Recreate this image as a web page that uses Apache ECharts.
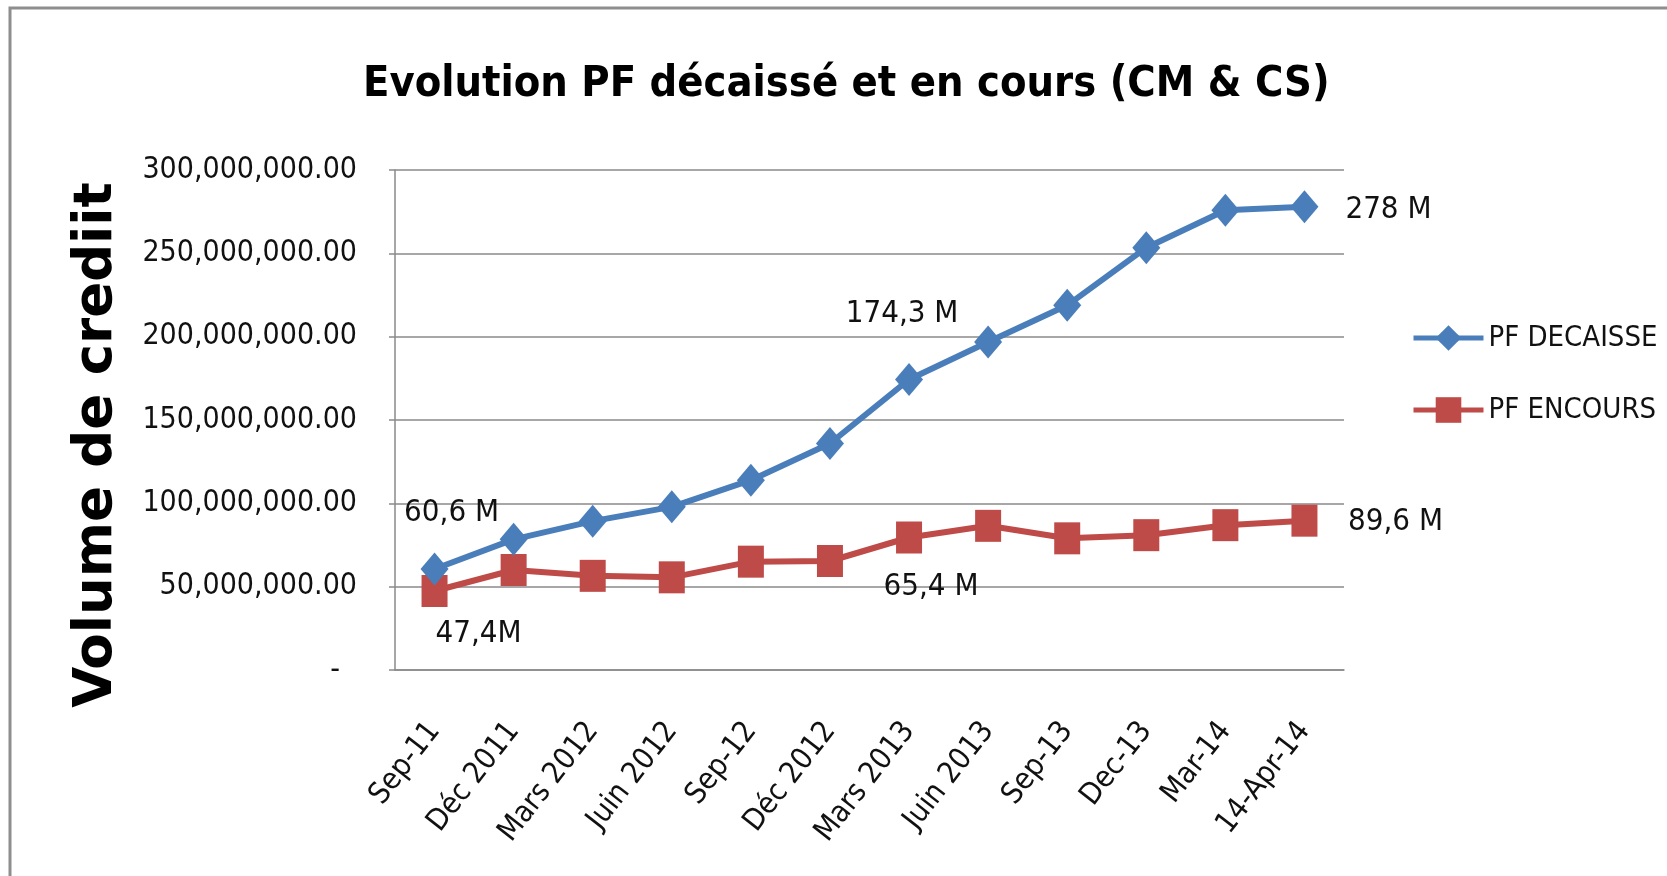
<!DOCTYPE html>
<html>
<head>
<meta charset="utf-8">
<script src="https://cdn.jsdelivr.net/npm/echarts@6/dist/echarts.min.js"></script>
<style>
html,body{margin:0;padding:0;background:#fff;}
#chart{width:1667px;height:876px;}
</style>
</head>
<body>
<div id="chart"></div>
<script>
const titleText = 'Evolution PF décaissé et en cours (CM & CS)';
const yAxisTitle = 'Volume de crediit';
const categories = ['Sep-11', 'Déc 2011', 'Mars 2012', 'Juin 2012', 'Sep-12', 'Déc 2012', 'Mars 2013', 'Juin 2013', 'Sep-13', 'Dec-13', 'Mar-14', '14-Apr-14'];
const seriesNames = ['PF DECAISSE', 'PF ENCOURS'];
const pfDecaisse = [60600000, 78400000, 89300000, 97900000, 113900000, 135900000, 174300000, 196800000, 218800000, 253400000, 275800000, 278000000];
const pfEncours = [47400000, 60000000, 56500000, 55600000, 65000000, 65400000, 79500000, 86500000, 79000000, 80900000, 86900000, 89600000];
const yTicks = [0, 50000000, 100000000, 150000000, 200000000, 250000000, 300000000];

// which points carry a value label (index into the series) and its unit suffix
const decaisseLabels = [{ i: 0, unit: ' M' }, { i: 6, unit: ' M' }, { i: 11, unit: ' M' }];
const encoursLabels = [{ i: 0, unit: 'M' }, { i: 5, unit: ' M' }, { i: 11, unit: ' M' }];

// label placement (layout only)
const labelOffsets = {
  0: { 0: [17, -56], 6: [-7, -66], 11: [84, 3] },
  1: { 0: [44, 43], 5: [101, 26], 11: [91, 1] }
};

const NARROW = "'Liberation Sans Narrow', 'Arial Narrow', 'DejaVu Sans Condensed', sans-serif";

function fmtMillions(v, unit) {
  const m = v / 1e6;
  const s = Number.isInteger(m) ? String(m) : m.toFixed(1).replace('.', ',');
  return s + unit;
}
function fmtAxis(v) {
  if (v === 0) return '{z|-}';
  const parts = Math.round(v).toString().replace(/\B(?=(\d{3})+(?!\d))/g, ',');
  return parts + '.00';
}
function buildData(values, specs, sIdx) {
  return values.map((v, i) => {
    const spec = specs.find(s => s.i === i);
    if (!spec) return v;
    return {
      value: v,
      label: {
        show: true,
        position: 'inside',
        offset: labelOffsets[sIdx][i],
        formatter: () => fmtMillions(v, spec.unit),
        color: '#111',
        fontSize: 31,
        fontFamily: NARROW,
        textBorderWidth: 0
      }
    };
  });
}

const chart = echarts.init(document.getElementById('chart'), null, { renderer: 'canvas' });
const option = {
  backgroundColor: '#fff',
  animation: false,
  title: {
    text: titleText,
    left: 358,
    top: 58,
    textStyle: { fontSize: 43, fontWeight: 'bold', color: '#000', fontFamily: NARROW }
  },
  graphic: [
    {
      type: 'rect',
      shape: { x: 10, y: 8, width: 1720, height: 920 },
      style: { fill: 'none', stroke: '#8e8e8e', lineWidth: 3 },
      silent: true
    },
    {
      type: 'text',
      x: 97,
      y: 445,
      rotation: Math.PI / 2,
      style: {
        text: yAxisTitle,
        fontSize: 53,
        fontWeight: 'bold',
        fontFamily: "'DejaVu Sans', sans-serif",
        fill: '#000',
        align: 'center',
        verticalAlign: 'middle'
      }
    }
  ],
  legend: {
    orient: 'vertical',
    left: 1406,
    top: 317,
    itemWidth: 70,
    itemHeight: 32,
    itemGap: 40,
    data: seriesNames,
    lineStyle: { width: 5 },
    textStyle: { fontSize: 29, fontFamily: NARROW, color: '#111', lineHeight: 32 }
  },
  grid: { left: 395, right: 323, top: 170, bottom: 206, containLabel: false },
  xAxis: {
    type: 'category',
    data: categories,
    boundaryGap: true,
    axisLine: { lineStyle: { color: '#8a8a8a', width: 1.5 } },
    axisTick: { show: false },
    axisLabel: {
      interval: 0,
      rotate: 52,
      margin: 56,
      fontSize: 30,
      fontFamily: NARROW,
      color: '#111'
    }
  },
  yAxis: {
    type: 'value',
    min: 0,
    max: 300000000,
    interval: 50000000,
    axisLine: { show: true, lineStyle: { color: '#8a8a8a', width: 1.5 } },
    axisTick: { show: true, length: 6, lineStyle: { color: '#8a8a8a', width: 1.5 } },
    splitLine: { lineStyle: { color: '#8a8a8a', width: 1.5 } },
    axisLabel: {
      margin: 38,
      fontSize: 30,
      fontFamily: NARROW,
      color: '#111',
      formatter: fmtAxis,
      rich: { z: { fontSize: 30, fontFamily: NARROW, color: '#111', padding: [0, 17, 0, 0] } }
    }
  },
  series: [
    {
      name: seriesNames[0],
      type: 'line',
      data: buildData(pfDecaisse, decaisseLabels, 0),
      symbol: 'diamond',
      symbolSize: [28, 33],
      color: '#4A7EBB',
      lineStyle: { width: 6, color: '#4A7EBB' },
      itemStyle: { color: '#4A7EBB' },
      z: 3
    },
    {
      name: seriesNames[1],
      type: 'line',
      data: buildData(pfEncours, encoursLabels, 1),
      symbol: 'rect',
      symbolSize: [26, 32],
      color: '#BE4B48',
      lineStyle: { width: 6, color: '#BE4B48' },
      itemStyle: { color: '#BE4B48' },
      z: 2
    }
  ]
};
chart.setOption(option);
</script>
</body>
</html>
